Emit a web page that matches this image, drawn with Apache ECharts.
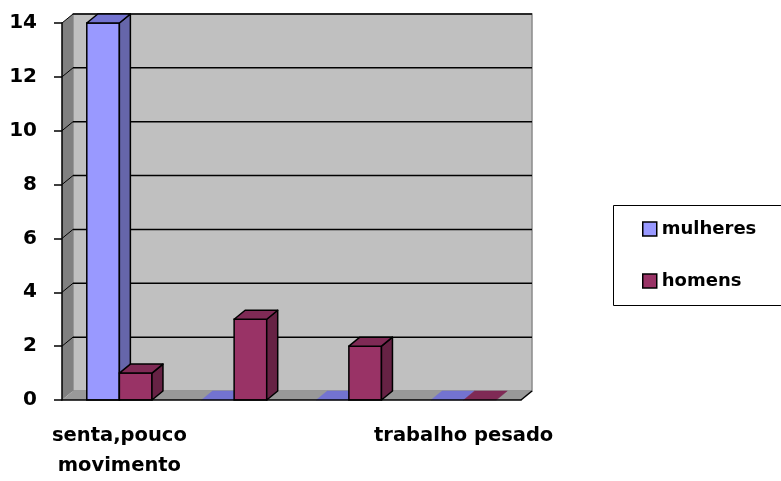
<!DOCTYPE html>
<html>
<head>
<meta charset="utf-8">
<title>mulheres e homens</title>
<script src="https://cdn.jsdelivr.net/npm/echarts@6/dist/echarts.min.js"></script>
<style>
  html, body { margin: 0; padding: 0; background: #ffffff; }
  #chart { width: 781px; height: 481px; }
</style>
</head>
<body>
<div id="chart"></div>
<script>
// Categories (labels 2 and 3 are not shown on the axis)
const categorias = ['senta,pouco\nmovimento', '', '', 'trabalho pesado'];
// Series values
const mulheres = [14, 0, 0, 0];
const homens = [1, 3, 2, 0];
// Value-axis ticks
const yTicks = [0, 2, 4, 6, 8, 10, 12, 14];

// Depth of the pseudo-3D box and bars, in pixels
const DX = 11, DY = 9;
const FONT = '"DejaVu Sans", sans-serif';

const chart = echarts.init(document.getElementById('chart'), null, { renderer: 'canvas' });

// Back wall, side wall, floor and gridlines of the 3D box
function renderWalls(params, api) {
  const cs = params.coordSys;
  const x = cs.x, y = cs.y, w = cs.width, h = cs.height;
  const children = [
    { type: 'rect', shape: { x: x + DX, y: y - DY, width: w, height: h },
      style: { fill: '#C0C0C0', stroke: '#8a8a8a', lineWidth: 1.5 } },
    { type: 'polygon', shape: { points: [[x, y], [x + DX, y - DY], [x + DX, y + h - DY], [x, y + h]] },
      style: { fill: '#808080', stroke: null } },
    { type: 'polygon', shape: { points: [[x, y + h], [x + DX, y + h - DY], [x + w + DX, y + h - DY], [x + w, y + h]] },
      style: { fill: '#999999', stroke: null } },
    { type: 'line', shape: { x1: x + w, y1: y + h, x2: x + w + DX, y2: y + h - DY },
      style: { stroke: '#000', lineWidth: 1.5 } }
  ];
  yTicks.forEach(function (v) {
    if (v === yTicks[0]) return;
    const py = api.coord([0, v])[1];
    children.push({ type: 'line', shape: { x1: x + DX, y1: py - DY, x2: x + w + DX, y2: py - DY },
      style: { stroke: '#000', lineWidth: 1.5 } });
    children.push({ type: 'line', shape: { x1: x, y1: py, x2: x + DX, y2: py - DY },
      style: { stroke: '#000', lineWidth: 1 } });
  });
  return { type: 'group', children: children };
}

// Pseudo-3D bar: front face, right side and top
function makeBarRenderer(offset, front, side, topc) {
  return function (params, api) {
    const cat = api.value(0), val = api.value(1);
    const p0 = api.coord([cat, 0]);
    const p1 = api.coord([cat, val]);
    const band = api.size([1, 0])[0];
    const bw = band * 0.284;
    const x0 = p0[0] + offset * bw;
    const x1 = x0 + bw;
    const yb = p0[1], yt = p1[1];
    const topFace = { type: 'polygon',
      shape: { points: [[x0, yt], [x0 + DX, yt - DY], [x1 + DX, yt - DY], [x1, yt]] },
      style: { fill: topc, stroke: val > 0 ? '#000' : topc, lineWidth: val > 0 ? 1.5 : 0.5, lineJoin: 'round' } };
    if (val <= 0) return { type: 'group', children: [topFace] };
    return { type: 'group', children: [
      { type: 'rect', shape: { x: x0, y: yt, width: bw, height: yb - yt },
        style: { fill: front, stroke: '#000', lineWidth: 1.5 } },
      { type: 'polygon', shape: { points: [[x1, yt], [x1 + DX, yt - DY], [x1 + DX, yb - DY], [x1, yb]] },
        style: { fill: side, stroke: '#000', lineWidth: 1.5, lineJoin: 'round' } },
      topFace
    ] };
  };
}

const option = {
  backgroundColor: '#ffffff',
  animation: false,
  grid: { left: 62, right: 260, top: 23, bottom: 77 },
  legend: {
    orient: 'vertical',
    left: 642, top: 218,
    padding: 0,
    itemWidth: 14, itemHeight: 14, itemGap: 30,
    icon: 'rect',
    data: [
      { name: 'mulheres', itemStyle: { color: '#9999FF', borderColor: '#000', borderWidth: 1.5 } },
      { name: 'homens', itemStyle: { color: '#993366', borderColor: '#000', borderWidth: 1.5 } }
    ],
    textStyle: { fontFamily: FONT, fontWeight: 'bold', fontSize: 18, color: '#000', lineHeight: 22 }
  },
  graphic: [
    { type: 'rect', left: 611, top: 203, shape: { width: 169, height: 100 },
      style: { fill: null, stroke: '#000', lineWidth: 1 }, z: -1 }
  ],
  xAxis: {
    type: 'category',
    data: categorias,
    z: 5,
    axisLine: { lineStyle: { color: '#000', width: 1.5 } },
    axisTick: { length: 9, lineStyle: { color: '#000', width: 1.5 } },
    axisLabel: { interval: 0, margin: 21, color: '#000', fontFamily: FONT, fontWeight: 'bold',
      fontSize: 19.5, lineHeight: 30 },
    splitLine: { show: false }
  },
  yAxis: {
    type: 'value',
    min: yTicks[0], max: yTicks[yTicks.length - 1], interval: yTicks[1] - yTicks[0],
    z: 5,
    axisLine: { show: true, lineStyle: { color: '#000', width: 1.5 } },
    axisTick: { show: true, length: 8, lineStyle: { color: '#000', width: 1.5 } },
    axisLabel: { margin: 25, color: '#000', fontFamily: FONT, fontWeight: 'bold', fontSize: 20 },
    splitLine: { show: false }
  },
  series: [
    { name: 'caixa', type: 'custom', z: 1, silent: true, renderItem: renderWalls,
      data: [[0, 0]], legendHoverLink: false },
    { name: 'mulheres', type: 'custom', z: 2, renderItem: makeBarRenderer(-1, '#9999FF', '#6666AA', '#7373D0'),
      itemStyle: { color: '#9999FF' },
      data: mulheres.map(function (v, i) { return [i, v]; }) },
    { name: 'homens', type: 'custom', z: 3, renderItem: makeBarRenderer(0, '#993366', '#662244', '#7F2A55'),
      itemStyle: { color: '#993366' },
      data: homens.map(function (v, i) { return [i, v]; }) }
  ]
};

chart.setOption(option);
</script>
</body>
</html>
